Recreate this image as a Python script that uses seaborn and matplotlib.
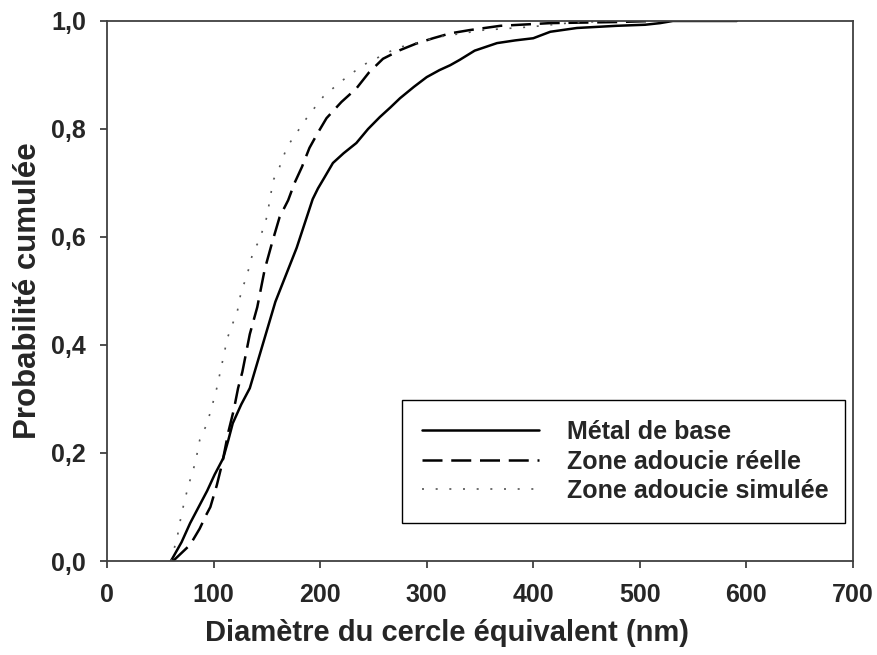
import matplotlib
matplotlib.use("Agg")
import matplotlib.pyplot as plt
import seaborn as sns
import pandas as pd

# === data ===
metal_x = [60, 70, 78, 86, 94, 101, 109, 114, 118, 126, 134, 140, 146, 152, 158, 165,
           172, 178, 183, 188, 193, 198, 204, 212, 222, 234, 245, 256, 266, 275, 288,
           300, 312, 322, 331, 345, 366, 383, 400, 416, 441, 478, 505, 519, 531, 560, 591]
metal_y = [0.0, 0.035, 0.07, 0.10, 0.13, 0.16, 0.19, 0.225, 0.255, 0.29, 0.32, 0.36,
           0.40, 0.44, 0.48, 0.515, 0.55, 0.58, 0.61, 0.64, 0.67, 0.69, 0.71, 0.737,
           0.755, 0.774, 0.80, 0.822, 0.84, 0.857, 0.878, 0.896, 0.909, 0.918, 0.928,
           0.945, 0.959, 0.964, 0.968, 0.98, 0.987, 0.991, 0.993, 0.996, 1.0, 1.0, 1.0]

reelle_x = [62, 70, 78, 87, 93, 97, 103, 108, 114, 119, 123, 127, 134, 141, 148, 155,
            162, 170, 176, 183, 190, 197, 206, 220, 234, 246, 259, 275, 290, 306, 322,
            340, 369, 416, 478, 514]
reelle_y = [0.0, 0.015, 0.03, 0.06, 0.085, 0.10, 0.14, 0.18, 0.24, 0.28, 0.32, 0.35,
            0.42, 0.47, 0.54, 0.59, 0.637, 0.668, 0.70, 0.73, 0.765, 0.79, 0.82, 0.85,
            0.875, 0.905, 0.93, 0.946, 0.958, 0.968, 0.977, 0.983, 0.991, 0.996, 0.998, 1.0]

simulee_x = [60, 66, 70, 76, 83, 87, 94, 99, 103, 108, 113, 118, 122, 126, 131, 137,
             143, 150, 156, 162, 169, 178, 188, 203, 219, 240, 259, 272, 294, 310, 353,
             397, 432, 472]
simulee_y = [0.0, 0.045, 0.088, 0.137, 0.183, 0.224, 0.255, 0.29, 0.32, 0.366, 0.413,
             0.44, 0.459, 0.50, 0.526, 0.572, 0.594, 0.637, 0.705, 0.73, 0.767, 0.793,
             0.822, 0.86, 0.887, 0.918, 0.937, 0.95, 0.961, 0.97, 0.983, 0.989, 0.996, 1.0]

labels = ["Métal de base", "Zone adoucie réelle", "Zone adoucie simulée"]
x_ticks = [0, 100, 200, 300, 400, 500, 600, 700]
y_ticks = [0.0, 0.2, 0.4, 0.6, 0.8, 1.0]
y_ticklabels = ["0,0", "0,2", "0,4", "0,6", "0,8", "1,0"]

# === style ===
sns.set_style("ticks")
plt.rcParams["font.family"] = ["Liberation Sans", "DejaVu Sans"]
plt.rcParams["font.weight"] = "bold"

fig = plt.figure(figsize=(8.77, 6.55), dpi=100)
ax = fig.add_axes([0.122, 0.1435, 0.8506, 0.8245])

spine_col = "#404040"

sns.lineplot(x=metal_x, y=metal_y, ax=ax, color="black", lw=1.8,
             label=labels[0], estimator=None)
sns.lineplot(x=reelle_x, y=reelle_y, ax=ax, color="black", lw=1.8,
             label=labels[1], estimator=None)
sns.lineplot(x=simulee_x, y=simulee_y, ax=ax, color="#555555", lw=1.2,
             label=labels[2], estimator=None)
ax.lines[1].set_linestyle((0, (8, 3.5)))
ax.lines[2].set_linestyle((0, (1.2, 7)))

ax.set_xlim(0, 700)
ax.set_ylim(0, 1.0)
ax.set_xticks(x_ticks)
ax.set_xticklabels([str(t) for t in x_ticks])
ax.set_yticks(y_ticks)
ax.set_yticklabels(y_ticklabels)
ax.tick_params(axis="both", labelsize=18, length=5, width=1.3,
               color=spine_col, direction="out")
ax.tick_params(axis="x", pad=10.5)
ax.tick_params(axis="y", pad=10)
for lab in ax.get_xticklabels() + ax.get_yticklabels():
    lab.set_fontweight("bold")
for sp in ax.spines.values():
    sp.set_visible(True)
    sp.set_color(spine_col)
    sp.set_linewidth(1.3)

ax.set_xlabel("Diamètre du cercle équivalent (nm)", fontsize=21, fontweight="bold")
ax.xaxis.set_label_coords(0.456, -0.108, transform=ax.transAxes)
ax.xaxis.label.set_verticalalignment("top")
ax.set_ylabel("Probabilité cumulée", fontsize=22.5, fontweight="bold", labelpad=6)

leg = ax.legend(loc="lower left", bbox_to_anchor=(0.395, 0.07, 0.594, 0.232),
                mode="expand", fontsize=18, frameon=True, fancybox=False,
                framealpha=1, edgecolor="black", handlelength=4.7,
                handletextpad=1.1, labelspacing=0.22, borderpad=0.8,
                borderaxespad=0)
leg.get_frame().set_linewidth(1.0)
for t in leg.get_texts():
    t.set_fontweight("bold")

plt.savefig("out.png", dpi=100)
